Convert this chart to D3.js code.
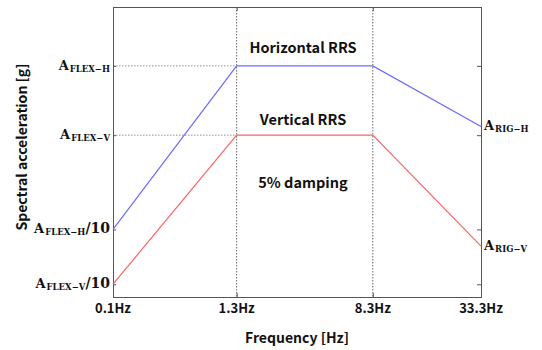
<!DOCTYPE html>
<html>
<head>
<meta charset="utf-8">
<script src="https://cdn.jsdelivr.net/npm/d3@7"></script>
<style>
  body { margin: 0; background: #fff; }
  svg text { fill: #111; }
  .lbl { font-family: "Noto Sans CJK KR", "Open Sans", sans-serif; font-weight: bold; }
  .sym { font-family: "DejaVu Serif", "Liberation Serif", serif; font-weight: bold; }
</style>
</head>
<body>
<script>
// schematic RRS, frequencies on x, spectral acceleration (relative) on y
var freqTicks = [0.1, 1.3, 8.3, 33.3];
var freqLabels = ["0.1Hz", "1.3Hz", "8.3Hz", "33.3Hz"];

var horizFreq = [0.1, 1.3, 8.3, 33.3];
var horizAcc = [0.1, 1.0, 1.0, 0.64];
var vertFreq = [0.1, 1.3, 8.3, 33.3];
var vertAcc = [0.06, 0.6, 0.6, 0.0856];

var accTicks = [1.0, 0.6, 0.1, 0.06];
var accLabels = [["A", "FLEX\u2212H", ""], ["A", "FLEX\u2212V", ""], ["A", "FLEX\u2212H", "/10"], ["A", "FLEX\u2212V", "/10"]];
var rigLabels = [["A", "RIG\u2212H"], ["A", "RIG\u2212V"]];

var W = 542, H = 350;
var mLeft = 113, mRight = 481, mTop = 7, mBottom = 297;
var w = mRight - mLeft, h = mBottom - mTop;

var svg = d3.select("body").append("svg")
    .attr("width", W)
    .attr("height", H);

// x is drawn piecewise (schematic, not true log spacing)
var x = d3.scaleLog()
    .domain(freqTicks)
    .range([mLeft, mLeft + 0.336 * w, mLeft + 0.706 * w, mRight]);

var y = d3.scaleLog()
    .domain([0.05, 0.06, 0.1, 0.6, 1.0, 2.5])
    .range([mBottom, mBottom - 0.044 * h, mBottom - 0.233 * h, mBottom - 0.558 * h, mBottom - 0.797 * h, mTop]);

var g = svg.append("g");

// dotted guides
g.selectAll(".vguide").data([1.3, 8.3]).enter().append("line")
    .attr("x1", d => x(d)).attr("x2", d => x(d))
    .attr("y1", mTop).attr("y2", mBottom)
    .attr("stroke", "#444").attr("stroke-width", 0.8)
    .attr("stroke-dasharray", "1.5,1.5");

g.selectAll(".hguide").data([1.0, 0.6]).enter().append("line")
    .attr("x1", mLeft).attr("x2", x(1.3))
    .attr("y1", d => y(d)).attr("y2", d => y(d))
    .attr("stroke", "#777").attr("stroke-width", 0.8)
    .attr("stroke-dasharray", "1.5,1.5");

// axes
var xAxis = d3.axisBottom(x).tickValues(freqTicks).tickSize(-4).tickFormat("");
var xTop = d3.axisTop(x).tickValues(freqTicks).tickSize(-4).tickFormat("");
var yAxis = d3.axisLeft(y).tickValues(accTicks).tickSize(-3).tickFormat("");
var yRight = d3.axisRight(y).tickValues(accTicks).tickSize(-4).tickFormat("");

function styleAxis(sel) {
    sel.select(".domain").attr("stroke", "#555");
    sel.selectAll(".tick line").attr("stroke", "#555");
}
g.append("g").attr("transform", "translate(0," + mBottom + ")").call(xAxis).call(styleAxis);
g.append("g").attr("transform", "translate(0," + mTop + ")").call(xTop).call(styleAxis);
g.append("g").attr("transform", "translate(" + mLeft + ",0)").call(yAxis).call(styleAxis);
g.append("g").attr("transform", "translate(" + mRight + ",0)").call(yRight).call(styleAxis);

// spectra
var line = d3.line().x(d => x(d[0])).y(d => y(d[1]));
g.append("path")
    .datum(d3.zip(horizFreq, horizAcc))
    .attr("d", line)
    .attr("fill", "none").attr("stroke", "#6a6aff").attr("stroke-width", 1.2);
g.append("path")
    .datum(d3.zip(vertFreq, vertAcc))
    .attr("d", line)
    .attr("fill", "none").attr("stroke", "#ff6464").attr("stroke-width", 1.2);

// x tick labels
svg.selectAll(".xl").data(freqTicks).enter().append("text")
    .attr("class", "lbl")
    .attr("x", d => x(d)).attr("y", mBottom + 16)
    .attr("text-anchor", "middle")
    .style("font-size", "13px")
    .text((d, i) => freqLabels[i]);

// y tick labels with subscripts
function symLabel(sel, parts, anchor) {
    var t = sel.append("text").attr("class", "sym").attr("text-anchor", anchor);
    t.append("tspan").style("font-size", "13px").text(parts[0]);
    t.append("tspan").style("font-size", "8.5px").attr("dy", 2).attr("dx", 1).text(parts[1]);
    if (parts[2]) t.append("tspan").style("font-size", "14px").attr("dy", -2).text(parts[2]);
    return t;
}
accTicks.forEach(function(v, i) {
    symLabel(svg, accLabels[i], "end").attr("x", mLeft - 3).attr("y", y(v) + 4);
});
symLabel(svg, rigLabels[0], "start").attr("x", mRight + 3).attr("y", y(horizAcc[3]) + 4);
symLabel(svg, rigLabels[1], "start").attr("x", mRight + 3).attr("y", y(vertAcc[3]) + 4);

// annotations
var notes = [["Horizontal RRS", 53], ["Vertical RRS", 125], ["5% damping", 188]];
svg.selectAll(".note").data(notes).enter().append("text")
    .attr("class", "lbl")
    .attr("x", 303).attr("y", d => d[1])
    .attr("text-anchor", "middle")
    .style("font-size", "14.5px")
    .text(d => d[0]);

svg.append("text").attr("class", "lbl")
    .attr("x", (mLeft + mRight) / 2).attr("y", 343)
    .attr("text-anchor", "middle")
    .style("font-size", "14px")
    .text("Frequency [Hz]");

svg.append("text").attr("class", "lbl")
    .attr("transform", "translate(27," + ((mTop + mBottom) / 2 - 5) + ") rotate(-90)")
    .attr("text-anchor", "middle")
    .style("font-size", "14px")
    .text("Spectral acceleration [g]");
</script>
</body>
</html>
